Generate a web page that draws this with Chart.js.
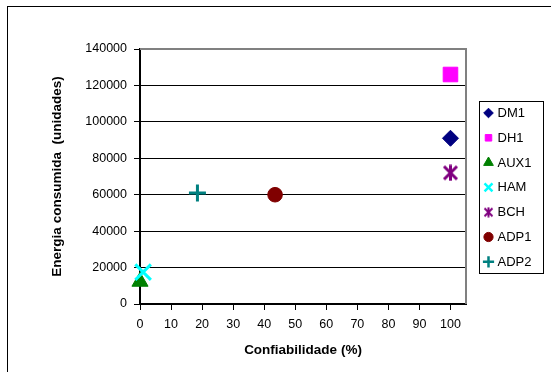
<!DOCTYPE html>
<html>
<head>
<meta charset="utf-8">
<script src="https://cdn.jsdelivr.net/npm/chart.js@4/dist/chart.umd.min.js"></script>
<style>
  html, body { margin: 0; padding: 0; background: #fff; }
  canvas { display: block; }
</style>
</head>
<body>
<canvas id="chart" width="551" height="372"></canvas>
<script>
// series data, one point per method
const seriesNames = ['DM1', 'DH1', 'AUX1', 'HAM', 'BCH', 'ADP1', 'ADP2'];
const reliability = [100, 100, 0, 1, 100, 43.5, 18.5];       // Confiabilidade (%)
const energy = [91000, 126000, 12300, 17500, 72000, 60000, 61000]; // Energia consumida
const seriesColors = ['#000080', '#ff00ff', '#008000', '#00ffff', '#800080', '#800000', '#008080'];

const xTicks = [0, 10, 20, 30, 40, 50, 60, 70, 80, 90, 100];
const yTicks = [0, 20000, 40000, 60000, 80000, 100000, 120000, 140000];

const FONT = '"Liberation Sans", Arial, sans-serif';

// asterisk marker: X plus vertical bar, like the Excel "star"
function makeStar(size, lw, color) {
  const c = document.createElement('canvas');
  c.width = size; c.height = size;
  const g = c.getContext('2d');
  const m = lw / 2 + 0.5;
  g.strokeStyle = color;
  g.lineWidth = lw;
  g.beginPath();
  g.moveTo(m, m); g.lineTo(size - m, size - m);
  g.moveTo(size - m, m); g.lineTo(m, size - m);
  g.moveTo(size / 2, 0.5); g.lineTo(size / 2, size - 0.5);
  g.stroke();
  return c;
}

const styles = ['rectRot', 'rect', 'triangle', 'crossRot', makeStar(17, 3, seriesColors[4]), 'circle', 'cross'];
const radii = [8, 10.3, 9.3, 11, 8, 7.3, 8.5];
const borderWidths = [1, 1, 1, 3, 3, 1, 3];
const legendStyles = ['rectRot', 'rect', 'triangle', 'crossRot', makeStar(11, 2, seriesColors[4]), 'circle', 'cross'];
const legendRadii = [4.8, 4.6, 5.6, 5.6, 5, 4.6, 5.6];

const datasets = seriesNames.map((name, i) => ({
  label: name,
  data: [{ x: reliability[i], y: energy[i] }],
  pointStyle: styles[i],
  pointRadius: radii[i],
  pointBorderWidth: borderWidths[i],
  backgroundColor: seriesColors[i],
  borderColor: seriesColors[i],
  clip: false,
  order: seriesNames.length - i
}));

const framePlugin = {
  id: 'frame',
  beforeDraw(chart) {
    const ctx = chart.ctx;
    ctx.save();
    ctx.fillStyle = '#fff';
    ctx.fillRect(0, 0, chart.width, chart.height);
    ctx.strokeStyle = '#000';
    ctx.lineWidth = 1;
    ctx.strokeRect(7.5, 6.5, 700, 500);
    ctx.restore();
  },
  afterDatasetsDraw(chart) {
    // grey plot-area border on top and right
    const a = chart.chartArea;
    const ctx = chart.ctx;
    ctx.save();
    ctx.strokeStyle = '#808080';
    ctx.lineWidth = 2;
    ctx.beginPath();
    ctx.moveTo(a.left, a.top);
    ctx.lineTo(a.right, a.top);
    ctx.lineTo(a.right, a.bottom);
    ctx.stroke();
    ctx.restore();
  },
  afterDraw(chart) {
    const ctx = chart.ctx;
    ctx.save();
    ctx.strokeStyle = '#000';
    ctx.lineWidth = 1;
    ctx.strokeRect(479.5, 101.5, 64, 172);
    ctx.font = '13px ' + FONT;
    ctx.textBaseline = 'middle';
    chart.data.datasets.forEach((ds, i) => {
      const y = 113 + i * 24.8;
      ctx.fillStyle = ds.backgroundColor;
      ctx.strokeStyle = ds.borderColor;
      ctx.lineWidth = ds.pointBorderWidth > 1 ? 2.5 : 1;
      Chart.helpers.drawPoint(ctx, {
        pointStyle: legendStyles[i],
        radius: legendRadii[i],
        borderWidth: ctx.lineWidth,
        rotation: 0
      }, 488.5, y);
      ctx.fillStyle = '#000';
      ctx.fillText(ds.label, 497.5, y + 0.5);
    });
    ctx.restore();
  }
};

new Chart(document.getElementById('chart'), {
  type: 'scatter',
  data: { datasets },
  plugins: [framePlugin],
  options: {
    responsive: false,
    animation: false,
    devicePixelRatio: 1,
    layout: { padding: { top: 49, right: 85, bottom: 0, left: 0 } },
    plugins: {
      legend: { display: false },
      tooltip: { enabled: false }
    },
    scales: {
      x: {
        type: 'linear',
        min: 0,
        max: 105,
        afterBuildTicks: s => { s.ticks = xTicks.map(v => ({ value: v })); },
        afterFit: s => { s.height = 68; },
        ticks: { color: '#000', font: { family: FONT, size: 12.5 }, padding: 7, maxRotation: 0 },
        grid: { drawOnChartArea: false, drawTicks: true, tickLength: 6, color: '#000' },
        border: { color: '#000', width: 2 },
        title: {
          display: true,
          text: 'Confiabilidade (%)',
          color: '#000',
          font: { family: FONT, size: 13.5, weight: 'bold' },
          padding: { top: 0, bottom: 14 }
        }
      },
      y: {
        type: 'linear',
        min: 0,
        max: 140000,
        afterBuildTicks: s => { s.ticks = yTicks.map(v => ({ value: v })); },
        afterFit: s => { s.width = 140; },
        ticks: { color: '#000', font: { family: FONT, size: 12.5 }, padding: 7, callback: v => String(v) },
        grid: { color: '#000', lineWidth: 1, drawTicks: true, tickLength: 6 },
        border: { color: '#000', width: 2 },
        title: {
          display: true,
          text: 'Energia consumida  (unidades)',
          color: '#000',
          font: { family: FONT, size: 13.5, weight: 'bold' },
          padding: { top: 49, bottom: 0 }
        }
      }
    }
  }
});
</script>
</body>
</html>
